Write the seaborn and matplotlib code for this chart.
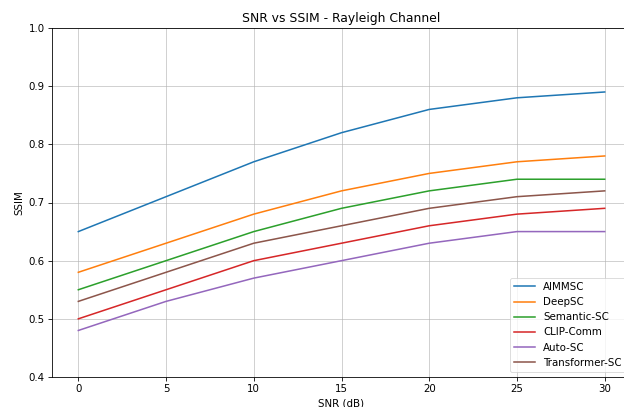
import matplotlib
matplotlib.use("Agg")
import matplotlib.pyplot as plt
import pandas as pd
import seaborn as sns

snr = [0, 5, 10, 15, 20, 25, 30]
aimmsc = [0.65, 0.71, 0.77, 0.82, 0.86, 0.88, 0.89]
deepsc = [0.58, 0.63, 0.68, 0.72, 0.75, 0.77, 0.78]
semantic_sc = [0.55, 0.60, 0.65, 0.69, 0.72, 0.74, 0.74]
clip_comm = [0.50, 0.55, 0.60, 0.63, 0.66, 0.68, 0.69]
auto_sc = [0.48, 0.53, 0.57, 0.60, 0.63, 0.65, 0.65]
transformer_sc = [0.53, 0.58, 0.63, 0.66, 0.69, 0.71, 0.72]

series = {
    "AIMMSC": aimmsc,
    "DeepSC": deepsc,
    "Semantic-SC": semantic_sc,
    "CLIP-Comm": clip_comm,
    "Auto-SC": auto_sc,
    "Transformer-SC": transformer_sc,
}

rows = []
for name, vals in series.items():
    for x, y in zip(snr, vals):
        rows.append({"SNR (dB)": x, "SSIM": y, "method": name})
df = pd.DataFrame(rows)

# reference looks like a default matplotlib figure shrunk to ~0.74
s = 0.74
plt.rcParams.update({
    "axes.linewidth": 0.8 * s,
    "xtick.major.width": 0.8 * s,
    "ytick.major.width": 0.8 * s,
    "xtick.major.size": 3.5 * s,
    "ytick.major.size": 3.5 * s,
    "xtick.major.pad": 3.5 * s,
    "ytick.major.pad": 3.5 * s,
    "font.family": "DejaVu Sans",
})

fig = plt.figure(figsize=(6.24, 4.07), dpi=100)
# the reference is a crop: axes runs past the right edge
ax = fig.add_axes([52 / 624, 30 / 407, 579 / 624, 349 / 407])
sns.lineplot(data=df, x="SNR (dB)", y="SSIM", hue="method",
             palette=sns.color_palette("tab10", 6), linewidth=1.5 * s, ax=ax)
ax.set_title("SNR vs SSIM - Rayleigh Channel", fontsize=12 * s, pad=6 * s)
ax.set_ylim(0.4, 1.0)
ax.set_xticks(snr)
ax.grid(True, color="#b0b0b0", alpha=0.7, linewidth=0.8 * s)
ax.tick_params(labelsize=10 * s)
ax.set_xlabel("SNR (dB)", fontsize=10 * s, labelpad=4 * s)
ax.set_ylabel("SSIM", fontsize=10 * s, labelpad=4 * s)
leg = ax.legend(loc="lower right", fontsize=10 * s)
leg.get_frame().set_linewidth(0.8 * s)

fig.savefig("out.png", dpi=100)
